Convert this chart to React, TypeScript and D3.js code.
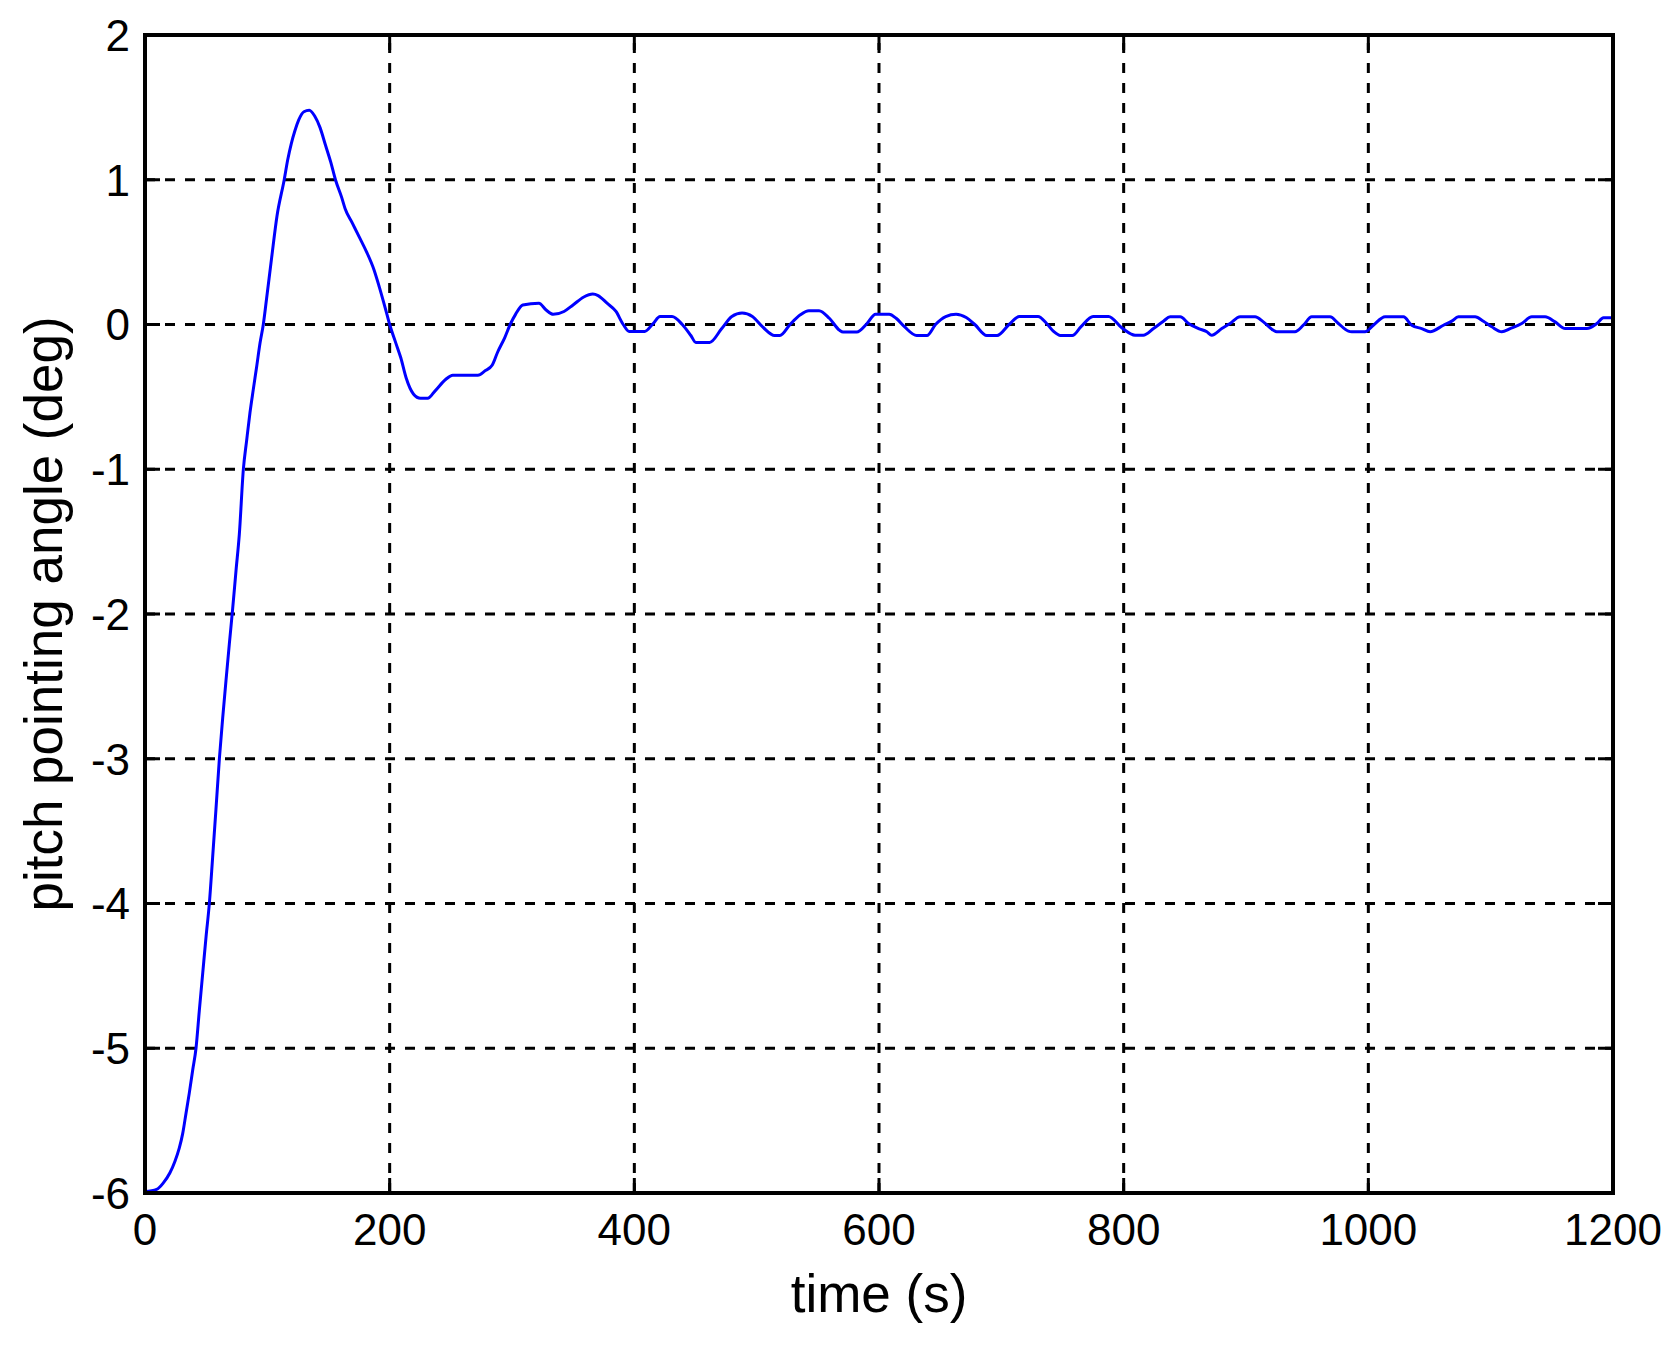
import * as d3 from "d3";
import React from "react";

// pitch response
const timeS = [
  0, 9.5, 15, 20.4, 24.5, 28, 30.8, 33.5, 36.2, 39, 41.7, 44.4, 47.2, 49.9, 52.6, 55.3, 58, 60.8,
  63.5, 66.2, 68.9, 71.7, 74.4, 77.1, 80.4, 83.1, 85.8, 88.5, 91.3, 94, 96.7, 99.4, 103.5, 107.9,
  113.8, 116.7, 119.6, 122.6, 125.5, 129.9, 134.3, 138.7, 143.1, 147.5, 151.9, 155.7, 160.7, 163.6,
  169.5, 175.4, 181.2, 187.1, 191.5, 196.5, 200, 204.7, 209.1, 213.5, 219.4, 225.2, 231.1, 237,
  245.7, 251.6, 272.1, 278, 283.9, 288.3, 294.1, 298.5, 302.9, 308.8, 322, 327.9, 333.7, 342.5,
  349.9, 358.7, 366, 370.4, 377.7, 385, 390.9, 395.8, 408.4, 415.4, 421, 430.8, 439.2, 446.2,
  450.3, 461.5, 471.3, 479.7, 488.1, 496.5, 504.9, 514.7, 519, 527.3, 535.7, 542.7, 551, 559.4,
  567.8, 570.6, 581.8, 590.2, 597.2, 608.4, 614, 621, 630.8, 639.2, 646.2, 654.5, 663, 671.3,
  678.3, 688.1, 696.5, 706.3, 714.7, 730, 737, 742.7, 748.3, 758, 765, 775, 787.6, 798.6, 809.3,
  816, 824.4, 832.5, 838, 846.2, 853, 861.2, 868, 872, 880.2, 887, 895.2, 907.4, 914.2, 922.4,
  925.1, 940, 946.9, 953.7, 968.7, 975.5, 983.7, 986.4, 997.3, 1004.1, 1013.7, 1028.7, 1035.5,
  1043.6, 1050.5, 1061.4, 1068.2, 1073.6, 1087.3, 1094.1, 1100.9, 1109.1, 1115.9, 1125.4, 1133.6,
  1144.5, 1152.7, 1160.9, 1178.6, 1186.8, 1192.2, 1200,
];

const pitchDeg = [
  -5.99, -5.975, -5.93, -5.86, -5.78, -5.69, -5.59, -5.45, -5.31, -5.15, -5.0, -4.74, -4.48, -4.23,
  -4.0, -3.68, -3.35, -3.0, -2.72, -2.46, -2.21, -1.96, -1.7, -1.45, -1.0, -0.8, -0.61, -0.45, -0.29,
  -0.13, 0, 0.18, 0.46, 0.75, 1.0, 1.14, 1.25, 1.34, 1.41, 1.47, 1.48, 1.44, 1.36, 1.24, 1.12, 1.0,
  0.88, 0.8, 0.7, 0.6, 0.5, 0.38, 0.26, 0.11, 0, -0.12, -0.23, -0.37, -0.48, -0.51, -0.51,
  -0.46, -0.38, -0.35, -0.35, -0.32, -0.28, -0.19, -0.09, 0, 0.07, 0.135, 0.147, 0.1, 0.07, 0.09,
  0.135, 0.19, 0.21, 0.2, 0.147, 0.09, 0, -0.048, -0.048, 0.007, 0.055, 0.055, 0, -0.076, -0.124,
  -0.124, -0.03, 0.055, 0.079, 0.055, -0.017, -0.076, -0.076, 0, 0.067, 0.095, 0.095, 0.043, -0.04,
  -0.052, -0.052, 0.007, 0.071, 0.071, 0.043, -0.017, -0.076, -0.076, 0, 0.055, 0.071, 0.048, 0,
  -0.076, -0.076, 0, 0.055, 0.055, 0.007, -0.048, -0.076, -0.076, -0.017, 0.055, 0.055, -0.024,
  -0.074, -0.074, -0.028, 0.023, 0.053, 0.053, 0.007, -0.028, -0.05, -0.074, -0.028, 0.007, 0.053,
  0.053, 0.018, -0.04, -0.05, -0.05, -0.005, 0.053, 0.053, 0.007, -0.046, -0.05, -0.05, -0.005,
  0.053, 0.053, -0.005, -0.028, -0.05, -0.005, 0.023, 0.053, 0.053, 0.023, -0.016, -0.05, -0.028,
  0.007, 0.053, 0.053, 0.018, -0.028, -0.028, 0.007, 0.046, 0.046,
];

const xTicks = [0, 200, 400, 600, 800, 1000, 1200];
const yTicks = [2, 1, 0, -1, -2, -3, -4, -5, -6];

const WIDTH = 1672;
const HEIGHT = 1345;
const margin = { top: 35, right: 59, bottom: 152, left: 145 };
const FONT = "'Liberation Sans', Arial, sans-serif";

export default function App() {
  const innerW = WIDTH - margin.left - margin.right;
  const innerH = HEIGHT - margin.top - margin.bottom;

  const x = d3.scaleLinear().domain([0, 1200]).range([0, innerW]);
  const y = d3.scaleLinear().domain([-6, 2]).range([innerH, 0]);

  const points: [number, number][] = timeS.map((t, i) => [t, pitchDeg[i]]);
  const line = d3
    .line<[number, number]>()
    .x((d) => x(d[0]))
    .y((d) => y(d[1]))
    .curve(d3.curveMonotoneX);

  const tickLen = 15;

  return (
    <svg
      width={WIDTH}
      height={HEIGHT}
      style={{ position: "absolute", left: 0, top: 0, background: "#fff" }}
    >
      <g transform={`translate(${margin.left},${margin.top})`}>
        {/* grid */}
        {xTicks.slice(1, -1).map((t) => (
          <line
            key={"gx" + t}
            x1={x(t)}
            x2={x(t)}
            y1={innerH}
            y2={0}
            stroke="#000"
            strokeWidth={3}
            strokeDasharray="10,10"
          />
        ))}
        {yTicks.slice(1, -1).map((v) => (
          <line
            key={"gy" + v}
            x1={0}
            x2={innerW}
            y1={y(v)}
            y2={y(v)}
            stroke="#000"
            strokeWidth={3}
            strokeDasharray="10,10"
          />
        ))}

        {/* inward ticks */}
        {xTicks.map((t) => (
          <g key={"tx" + t}>
            <line x1={x(t)} x2={x(t)} y1={innerH} y2={innerH - tickLen} stroke="#000" strokeWidth={3} />
            <line x1={x(t)} x2={x(t)} y1={0} y2={tickLen} stroke="#000" strokeWidth={3} />
          </g>
        ))}
        {yTicks.map((v) => (
          <g key={"ty" + v}>
            <line x1={0} x2={tickLen} y1={y(v)} y2={y(v)} stroke="#000" strokeWidth={3} />
            <line x1={innerW} x2={innerW - tickLen} y1={y(v)} y2={y(v)} stroke="#000" strokeWidth={3} />
          </g>
        ))}

        <path d={line(points) || ""} fill="none" stroke="#0000ff" strokeWidth={3} strokeLinejoin="round" />

        <rect x={0} y={0} width={innerW} height={innerH} fill="none" stroke="#000" strokeWidth={4} />

        {/* tick labels */}
        {xTicks.map((t) => (
          <text
            key={"lx" + t}
            x={x(t)}
            y={innerH + 52}
            textAnchor="middle"
            fontFamily={FONT}
            fontSize={44}
            fill="#000"
          >
            {t}
          </text>
        ))}
        {yTicks.map((v) => (
          <text
            key={"ly" + v}
            x={-15}
            y={y(v)}
            dy="0.36em"
            textAnchor="end"
            fontFamily={FONT}
            fontSize={44}
            fill="#000"
          >
            {v}
          </text>
        ))}

        {/* axis titles */}
        <text
          x={innerW / 2}
          y={innerH + 119}
          textAnchor="middle"
          fontFamily={FONT}
          fontSize={53}
          fill="#000"
        >
          time (s)
        </text>
        <text
          transform={`translate(${62 - margin.left},${innerH / 2}) rotate(-90)`}
          textAnchor="middle"
          fontFamily={FONT}
          fontSize={53}
          fill="#000"
        >
          pitch pointing angle (deg)
        </text>
      </g>
    </svg>
  );
}
